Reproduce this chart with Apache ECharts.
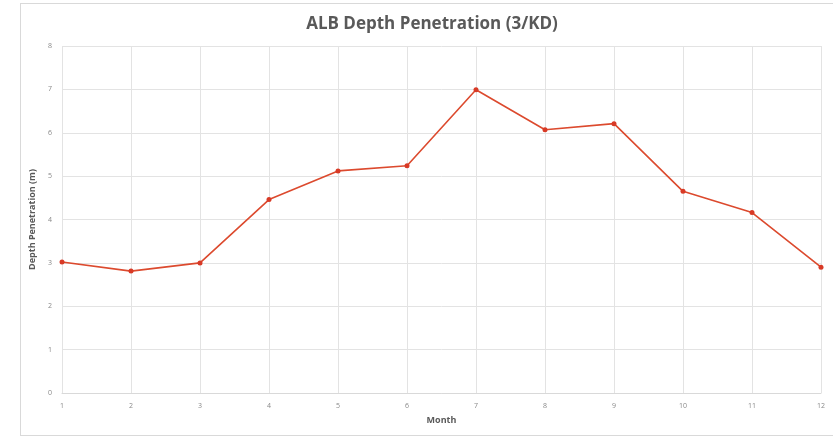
<!DOCTYPE html>
<html>
<head>
<meta charset="utf-8">
<script src="https://cdn.jsdelivr.net/npm/echarts@6/dist/echarts.min.js"></script>
<style>
html,body{margin:0;padding:0;background:#fff;}
#frame{position:absolute;left:20px;top:3px;width:820px;height:433px;border:1px solid #d9d9d9;box-sizing:border-box;}
#chart{position:absolute;left:0;top:0;width:833px;height:439px;}
</style>
</head>
<body>
<div id="frame"></div>
<div id="chart"></div>
<script>
const months = ['1','2','3','4','5','6','7','8','9','10','11','12'];
const depth = [3.02, 2.81, 3.0, 4.46, 5.12, 5.24, 6.99, 6.07, 6.21, 4.65, 4.16, 2.90];
const chart = echarts.init(document.getElementById('chart'));
chart.setOption({
  animation: false,
  title: {
    text: 'ALB Depth Penetration (3/KD)',
    left: 427, top: 11, textAlign: 'center',
    textStyle: {fontFamily: 'Open Sans', fontSize: 17, fontWeight: 'bold', color: '#595959'}
  },
  grid: {left: 62, right: 12, top: 46, bottom: 46},
  xAxis: {
    type: 'category', data: months, boundaryGap: false,
    name: 'Month', nameLocation: 'middle', nameGap: 23,
    nameTextStyle: {fontFamily: 'Open Sans', fontSize: 9, fontWeight: 'bold', color: '#595959'},
    axisLine: {lineStyle: {color: '#d9d9d9'}},
    axisTick: {show: false},
    axisLabel: {fontFamily: 'Open Sans', fontSize: 7, color: '#888', margin: 9},
    splitLine: {show: true, lineStyle: {color: '#e3e3e3'}}
  },
  yAxis: {
    type: 'value', min: 0, max: 8, interval: 1,
    name: 'Depth Penetration (m)', nameLocation: 'middle', nameGap: 22,
    nameTextStyle: {fontFamily: 'Open Sans', fontSize: 9, fontWeight: 'bold', color: '#595959'},
    axisLine: {show: false},
    axisTick: {show: false},
    axisLabel: {fontFamily: 'Open Sans', fontSize: 7, color: '#888', margin: 10},
    splitLine: {show: true, lineStyle: {color: '#e3e3e3'}}
  },
  series: [{
    type: 'line', data: depth,
    symbol: 'circle', symbolSize: 5,
    lineStyle: {color: '#dc4a2e', width: 1.6},
    itemStyle: {color: '#d83a26'}
  }]
});
</script>
</body>
</html>
